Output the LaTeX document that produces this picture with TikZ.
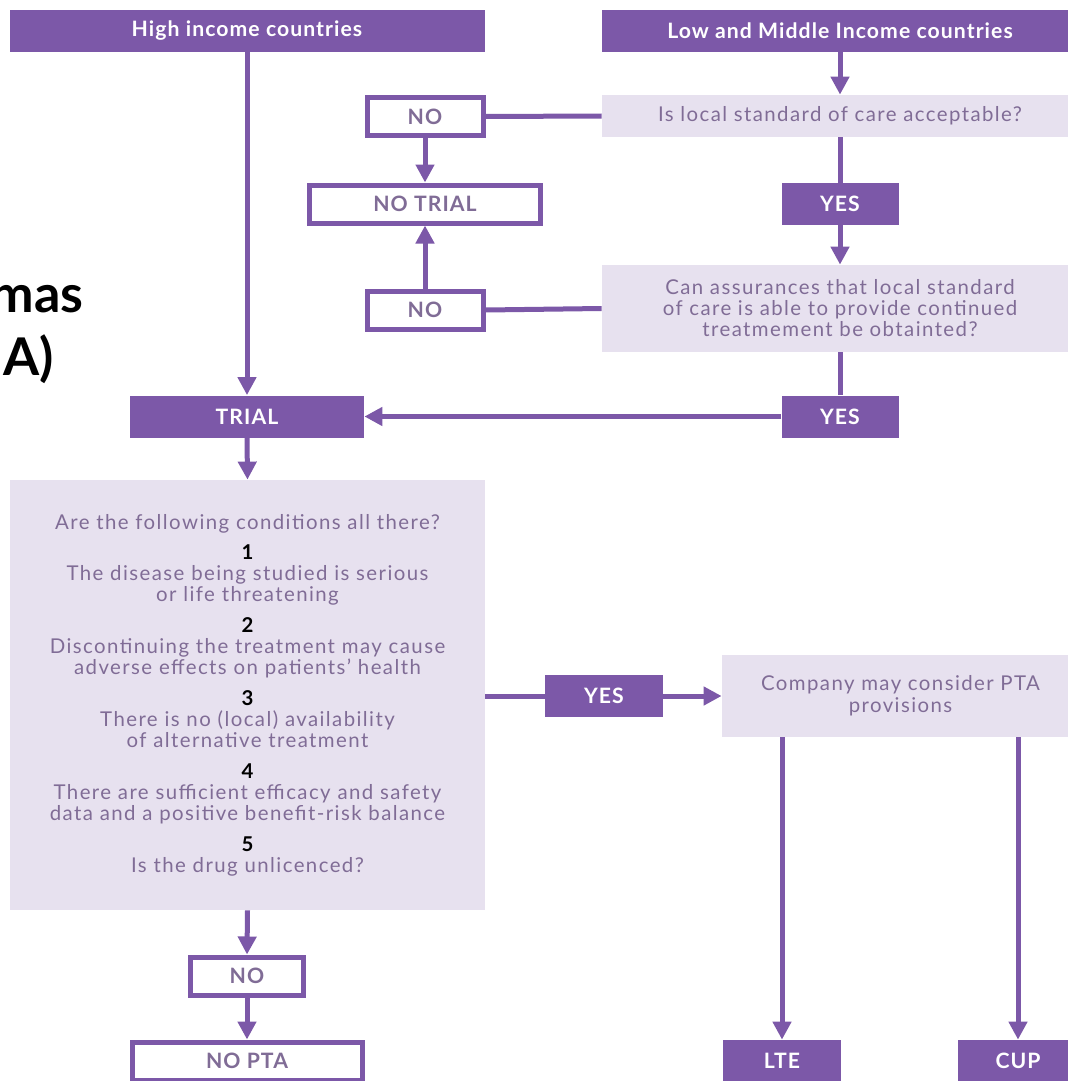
\documentclass[tikz,border=0pt]{standalone}
\usepackage{fontspec}
\setmainfont{Lato}
\newfontfamily\chartfont{Lato}[LetterSpace=7]
\newfontfamily\labelfont{Lato}[LetterSpace=5]
\usepackage{tikz}
\usetikzlibrary{positioning,arrows.meta}
\usepackage{xcolor}
\definecolor{ptapurple}{RGB}{124,88,168}
\definecolor{ptalilac}{RGB}{231,225,239}
\definecolor{ptagrey}{RGB}{128,108,150}

\begin{document}
\begin{tikzpicture}[x=0.5pt,y=-0.5pt,
    solid box/.style={fill=ptapurple,text=white,font=\labelfont\fontsize{10.6}{11}\selectfont\bfseries,
      inner sep=0pt,minimum height=21pt},
    open box/.style={draw=ptapurple,line width=2.5pt,fill=white,text=ptagrey,
      font=\labelfont\fontsize{10.6}{11}\selectfont\bfseries,inner sep=0pt,minimum height=19pt},
    ask box/.style={fill=ptalilac,text=ptagrey,font=\chartfont\fontsize{10.2}{10.5}\selectfont,
      align=center,inner sep=0pt},
    link/.style={ptapurple,line width=2.5pt},
    flow/.style={link,-{Triangle[width=9pt,length=9pt]}}]
  \useasboundingbox (0,0) rectangle (1067,1081);
  \fill[white] (0,0) rectangle (1067,1081);

  % cut-off heading from the slide behind
  \node[anchor=base east,font=\fontsize{26}{30}\selectfont\bfseries,inner sep=0pt] (headA)
    at (84,312) {mas};
  \node[anchor=base east,font=\fontsize{26}{30}\selectfont\bfseries,inner sep=0pt] (headB)
    at (54,375) {A)};

  % the two starting points
  \node[solid box,minimum width=237.5pt] (hic) at (247,31) {High income countries};
  \node[solid box,minimum width=238pt] (lmic) at (840,31) {Low and Middle Income countries};

  % low and middle income branch
  \node[ask box,minimum width=238pt,minimum height=21pt] (local) at (840,116)
    {Is local standard of care acceptable?};
  \node[open box,minimum width=58pt] (no1) at (425,116.5) {NO};
  \node[open box,minimum width=115.5pt] (notrial) at (425,204) {NO TRIAL};
  \node[solid box,minimum width=58.5pt] (yes1) at (840,204) {YES};
  \node[ask box,minimum width=238pt,minimum height=43.5pt] (can) at (840,308.5)
    {Can assurances that local standard\\of care is able to provide continued\\treatmement be obtainted?};
  \node[open box,minimum width=58pt] (no2) at (425,310) {NO};
  \node[solid box,minimum width=58.5pt] (yes2) at (840,416.5) {YES};

  \node[solid box,minimum width=117pt] (trial) at (247,416.5) {TRIAL};

  % conditions for post-trial access
  \node[ask box,minimum width=237.5pt,minimum height=215pt,text width=234pt] (cond) at (247.5,695)
    {Are the following conditions all there?\\[4.5pt]
     \textcolor{black}{\bfseries 1}\\
     The disease being studied is serious\\or life threatening\\[5pt]
     \textcolor{black}{\bfseries 2}\\
     Discontinuing the treatment may cause\\adverse effects on patients’ health\\[5pt]
     \textcolor{black}{\bfseries 3}\\
     There is no (local) availability\\of alternative treatment\\[5pt]
     \textcolor{black}{\bfseries 4}\\
     There are sufficient efficacy and safety\\data and a positive benefit-risk balance\\[5pt]
     \textcolor{black}{\bfseries 5}\\
     Is the drug unlicenced?};
  \node[solid box,minimum width=59pt] (yes3) at (604,696) {YES};
  \node[ask box,minimum width=178.5pt,minimum height=41pt,font=\chartfont\fontsize{10.2}{11}\selectfont] (comp) at (900.5,696)
    {Company may consider PTA\\provisions};
  \node[solid box,minimum width=59pt] (lte) at (782,1061) {LTE};
  \node[solid box,minimum width=60pt] (cup) at (1018,1061) {CUP};
  \node[open box,minimum width=56.5pt] (no3) at (247,976) {NO};
  \node[open box,minimum width=115pt] (nopta) at (247,1061) {NO PTA};

  % connectors
  \draw[flow] (hic.south) -- (trial.north);
  \draw[flow] (lmic.south) -- (local.north);
  \draw[link] (local.west) -- (no1.east);
  \draw[flow] (no1.south) -- (notrial.north);
  \draw[link] (local.south) -- (yes1.north);
  \draw[flow] (yes1.south) -- (can.north);
  \draw[link] (can.west) -- (no2.east);
  \draw[flow] (no2.north) -- (notrial.south);
  \draw[link] (can.south) -- (yes2.north);
  \draw[flow] (yes2.west) -- (trial.east);
  \draw[flow] (trial.south) -- (cond.north);
  \draw[link] (cond.east |- yes3.west) -- (yes3.west);
  \draw[flow] (yes3.east) -- (yes3.east -| comp.west);
  \draw[flow] (lte.north |- comp.south) -- (lte.north);
  \draw[flow] (cup.north |- comp.south) -- (cup.north);
  \draw[flow] (cond.south) -- (no3.north);
  \draw[flow] (no3.south) -- (nopta.north);
\end{tikzpicture}
\end{document}
